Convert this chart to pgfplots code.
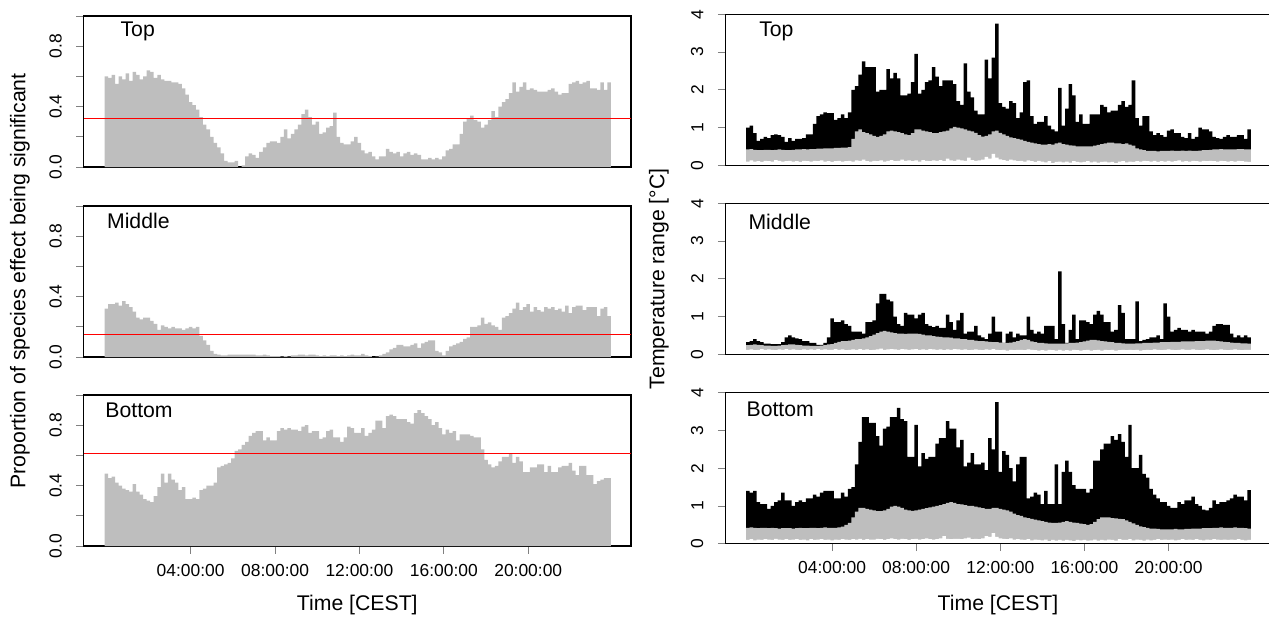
\documentclass[border=0pt]{standalone}
\usepackage{pgfplots}
\pgfplotsset{compat=1.18}
\usepackage{pgfplotstable}
\usepackage{fontspec}
\setmainfont{Liberation Sans}
\definecolor{barg}{RGB}{190,190,190}
\definecolor{rlinethree}{RGB}{254,1,1}

% Left column: proportion of species effect being significant (10-min bars)
\pgfplotstableread[row sep=\\]{
top mid bot\\
0.60 0.32 0.48\\ 0.59 0.35 0.45\\ 0.61 0.35 0.46\\ 0.55 0.36 0.42\\ 0.60 0.34 0.40\\ 0.58 0.37 0.38\\
0.62 0.35 0.37\\ 0.57 0.33 0.36\\ 0.63 0.30 0.41\\ 0.61 0.26 0.36\\ 0.58 0.25 0.34\\ 0.60 0.26 0.31\\
0.64 0.26 0.30\\ 0.63 0.24 0.29\\ 0.59 0.22 0.33\\ 0.61 0.18 0.39\\ 0.58 0.21 0.48\\ 0.57 0.20 0.42\\
0.57 0.19 0.48\\ 0.56 0.20 0.44\\ 0.56 0.19 0.42\\ 0.55 0.19 0.37\\ 0.52 0.18 0.39\\ 0.48 0.19 0.31\\
0.43 0.20 0.31\\ 0.41 0.19 0.32\\ 0.38 0.20 0.31\\ 0.33 0.14 0.37\\ 0.28 0.11 0.38\\ 0.25 0.08 0.40\\
0.20 0.04 0.40\\ 0.16 0.02 0.42\\ 0.13 0.015 0.52\\ 0.09 0.01 0.53\\ 0.04 0.01 0.54\\ 0.03 0.015 0.55\\
0.03 0.015 0.58\\ 0.04 0.015 0.63\\ 0.00 0.015 0.64\\ 0.01 0.015 0.67\\ 0.07 0.015 0.69\\ 0.09 0.015 0.73\\
0.08 0.015 0.75\\ 0.06 0.01 0.76\\ 0.10 0.01 0.76\\ 0.13 0.015 0.70\\ 0.16 0.01 0.72\\ 0.17 0.005 0.70\\
0.17 0.005 0.70\\ 0.16 0.005 0.76\\ 0.20 0.003 0.78\\ 0.25 0.005 0.77\\ 0.19 0.003 0.78\\ 0.22 0.01 0.77\\
0.25 0.01 0.77\\ 0.28 0.015 0.76\\ 0.35 0.015 0.79\\ 0.38 0.01 0.80\\ 0.33 0.015 0.75\\ 0.28 0.015 0.76\\
0.30 0.01 0.76\\ 0.22 0.005 0.71\\ 0.23 0.01 0.72\\ 0.26 0.005 0.76\\ 0.27 0.01 0.77\\ 0.36 0.01 0.72\\
0.20 0.005 0.72\\ 0.16 0.01 0.69\\ 0.15 0.005 0.72\\ 0.15 0.01 0.79\\ 0.17 0.015 0.78\\ 0.20 0.01 0.75\\
0.16 0.01 0.75\\ 0.11 0.02 0.78\\ 0.09 0.01 0.73\\ 0.10 0.005 0.75\\ 0.07 0.00 0.77\\ 0.05 0.003 0.83\\
0.07 0.01 0.83\\ 0.07 0.02 0.78\\ 0.12 0.03 0.86\\ 0.10 0.05 0.87\\ 0.09 0.06 0.86\\ 0.10 0.08 0.84\\
0.07 0.08 0.84\\ 0.09 0.07 0.84\\ 0.10 0.07 0.82\\ 0.08 0.08 0.81\\ 0.09 0.09 0.88\\ 0.08 0.06 0.90\\
0.05 0.09 0.88\\ 0.05 0.10 0.86\\ 0.06 0.11 0.84\\ 0.05 0.11 0.80\\ 0.06 0.04 0.82\\ 0.05 0.03 0.78\\
0.07 0.01 0.74\\ 0.11 0.04 0.77\\ 0.12 0.07 0.75\\ 0.15 0.08 0.76\\ 0.15 0.09 0.70\\ 0.22 0.10 0.74\\
0.30 0.12 0.74\\ 0.32 0.13 0.74\\ 0.34 0.20 0.73\\ 0.31 0.20 0.72\\ 0.30 0.21 0.72\\ 0.26 0.26 0.64\\
0.28 0.22 0.57\\ 0.31 0.23 0.54\\ 0.37 0.21 0.52\\ 0.33 0.20 0.53\\ 0.40 0.18 0.56\\ 0.43 0.26 0.59\\
0.45 0.27 0.59\\ 0.49 0.29 0.61\\ 0.56 0.32 0.55\\ 0.50 0.36 0.59\\ 0.53 0.31 0.56\\ 0.56 0.33 0.49\\
0.51 0.35 0.49\\ 0.52 0.30 0.52\\ 0.51 0.33 0.52\\ 0.50 0.31 0.54\\ 0.50 0.30 0.54\\ 0.50 0.33 0.49\\
0.51 0.32 0.53\\ 0.52 0.33 0.49\\ 0.50 0.31 0.49\\ 0.48 0.32 0.52\\ 0.49 0.30 0.53\\ 0.49 0.34 0.53\\
0.55 0.29 0.55\\ 0.56 0.33 0.50\\ 0.57 0.34 0.47\\ 0.55 0.34 0.53\\ 0.56 0.31 0.53\\ 0.57 0.33 0.47\\
0.52 0.33 0.47\\ 0.52 0.33 0.41\\ 0.51 0.27 0.43\\ 0.56 0.32 0.44\\ 0.51 0.33 0.45\\ 0.56 0.27 0.45\\
0.56 0.27 0.45\\
}\lefttab

% Right column, Top: black range top, grey top, grey bottom
\pgfplotstableread[row sep=\\]{
blk gt gb\\
1.00 0.42 0.10\\ 1.05 0.43 0.13\\ 0.85 0.41 0.10\\ 0.65 0.40 0.11\\ 0.70 0.40 0.09\\ 0.75 0.41 0.12\\
0.72 0.41 0.11\\ 0.80 0.40 0.10\\ 0.82 0.41 0.14\\ 0.80 0.42 0.12\\ 0.75 0.41 0.10\\ 0.62 0.40 0.11\\
0.72 0.40 0.12\\ 0.65 0.41 0.10\\ 0.70 0.42 0.11\\ 0.70 0.42 0.09\\ 0.72 0.43 0.12\\ 0.82 0.42 0.11\\
0.82 0.43 0.10\\ 1.10 0.43 0.12\\ 1.30 0.44 0.11\\ 1.35 0.44 0.13\\ 1.40 0.45 0.10\\ 1.38 0.45 0.11\\
1.38 0.45 0.09\\ 1.20 0.46 0.11\\ 1.25 0.46 0.12\\ 1.35 0.47 0.10\\ 1.25 0.47 0.11\\ 1.40 0.48 0.12\\
2.00 0.70 0.10\\ 2.10 0.90 0.13\\ 2.40 0.95 0.12\\ 2.75 0.88 0.15\\ 2.60 0.85 0.11\\ 2.60 0.82 0.10\\
2.60 0.78 0.12\\ 1.95 0.75 0.11\\ 2.00 0.78 0.13\\ 2.00 0.82 0.10\\ 2.55 0.90 0.12\\ 2.30 0.92 0.14\\
2.45 0.90 0.11\\ 2.30 0.88 0.12\\ 1.85 0.85 0.15\\ 1.85 0.82 0.12\\ 1.90 0.80 0.13\\ 2.20 0.85 0.11\\
2.95 0.95 0.13\\ 1.90 0.95 0.10\\ 2.00 0.92 0.14\\ 2.20 0.90 0.12\\ 2.25 0.88 0.11\\ 2.60 0.85 0.13\\
2.35 0.85 0.12\\ 2.10 0.88 0.14\\ 2.25 0.90 0.11\\ 2.25 0.92 0.18\\ 2.25 0.98 0.13\\ 2.15 1.02 0.12\\
1.70 1.00 0.15\\ 1.60 0.98 0.13\\ 2.70 0.95 0.12\\ 1.95 0.92 0.20\\ 1.80 0.90 0.14\\ 1.45 0.86 0.12\\
1.35 0.80 0.13\\ 1.35 0.76 0.15\\ 2.80 0.78 0.22\\ 2.30 0.82 0.18\\ 2.85 0.90 0.30\\ 3.75 0.92 0.20\\
1.65 0.86 0.16\\ 1.55 0.82 0.14\\ 1.50 0.78 0.12\\ 1.70 0.74 0.15\\ 1.65 0.72 0.13\\ 1.25 0.70 0.11\\
1.40 0.68 0.12\\ 2.20 0.65 0.10\\ 2.25 0.62 0.13\\ 1.30 0.60 0.11\\ 1.10 0.58 0.09\\ 1.15 0.56 0.12\\
1.15 0.55 0.10\\ 1.30 0.55 0.08\\ 1.05 0.56 0.11\\ 0.95 0.55 0.06\\ 0.90 0.58 0.09\\ 2.05 0.60 0.10\\
1.05 0.56 0.08\\ 1.50 0.55 0.10\\ 2.15 0.53 0.07\\ 1.85 0.52 0.11\\ 1.15 0.50 0.09\\ 1.35 0.50 0.08\\
1.10 0.50 0.09\\ 1.10 0.50 0.11\\ 1.35 0.50 0.08\\ 1.35 0.52 0.10\\ 1.35 0.54 0.07\\ 1.60 0.56 0.09\\
1.55 0.58 0.10\\ 1.40 0.60 0.08\\ 1.45 0.60 0.09\\ 1.45 0.58 0.06\\ 1.60 0.58 0.10\\ 1.70 0.56 0.11\\
1.55 0.58 0.08\\ 1.60 0.55 0.10\\ 2.25 0.52 0.09\\ 1.25 0.45 0.11\\ 1.05 0.42 0.10\\ 1.30 0.40 0.12\\
1.30 0.38 0.11\\ 0.90 0.38 0.10\\ 0.80 0.38 0.12\\ 0.85 0.37 0.09\\ 0.80 0.38 0.11\\ 0.75 0.38 0.10\\
0.92 0.38 0.12\\ 0.95 0.39 0.10\\ 0.85 0.38 0.11\\ 0.85 0.38 0.13\\ 0.75 0.39 0.10\\ 0.72 0.38 0.11\\
0.85 0.39 0.10\\ 0.70 0.38 0.12\\ 0.75 0.38 0.11\\ 1.00 0.39 0.10\\ 0.95 0.40 0.12\\ 0.95 0.40 0.11\\
0.90 0.41 0.12\\ 0.75 0.42 0.11\\ 0.72 0.42 0.10\\ 0.70 0.43 0.12\\ 0.75 0.42 0.11\\ 0.80 0.42 0.10\\
0.75 0.42 0.11\\ 0.75 0.42 0.10\\ 0.80 0.43 0.12\\ 0.80 0.43 0.11\\ 0.70 0.42 0.10\\ 0.95 0.42 0.09\\
0.95 0.42 0.09\\
}\trtab

% Right column, Middle
\pgfplotstableread[row sep=\\]{
blk gt gb\\
0.32 0.24 0.12\\ 0.35 0.25 0.13\\ 0.40 0.26 0.11\\ 0.35 0.25 0.12\\ 0.32 0.24 0.14\\ 0.28 0.23 0.12\\
0.28 0.23 0.13\\ 0.27 0.22 0.12\\ 0.27 0.22 0.11\\ 0.27 0.23 0.13\\ 0.32 0.24 0.12\\ 0.45 0.25 0.14\\
0.50 0.26 0.12\\ 0.45 0.26 0.13\\ 0.42 0.25 0.12\\ 0.40 0.24 0.11\\ 0.35 0.23 0.13\\ 0.35 0.23 0.12\\
0.30 0.22 0.13\\ 0.30 0.22 0.12\\ 0.25 0.22 0.14\\ 0.25 0.23 0.12\\ 0.30 0.24 0.13\\ 0.45 0.26 0.12\\
0.95 0.27 0.12\\ 0.85 0.30 0.14\\ 0.85 0.33 0.12\\ 0.90 0.35 0.13\\ 0.80 0.35 0.11\\ 0.75 0.36 0.12\\
0.60 0.38 0.13\\ 0.60 0.40 0.12\\ 0.60 0.40 0.14\\ 0.55 0.42 0.12\\ 0.85 0.45 0.13\\ 0.85 0.48 0.11\\
0.90 0.52 0.12\\ 1.35 0.56 0.13\\ 1.60 0.60 0.15\\ 1.60 0.62 0.12\\ 1.45 0.60 0.13\\ 1.40 0.58 0.14\\
1.00 0.56 0.13\\ 0.80 0.55 0.12\\ 0.75 0.55 0.14\\ 1.10 0.54 0.13\\ 1.05 0.55 0.12\\ 1.05 0.55 0.13\\
0.95 0.55 0.14\\ 1.05 0.54 0.12\\ 1.10 0.52 0.13\\ 0.80 0.50 0.12\\ 0.75 0.50 0.14\\ 0.72 0.48 0.13\\
0.75 0.47 0.12\\ 0.70 0.46 0.13\\ 0.70 0.45 0.11\\ 1.05 0.45 0.13\\ 0.85 0.44 0.12\\ 0.65 0.42 0.14\\
0.90 0.42 0.13\\ 1.10 0.40 0.12\\ 0.55 0.40 0.13\\ 0.60 0.38 0.11\\ 0.60 0.38 0.12\\ 0.75 0.36 0.13\\
0.50 0.35 0.12\\ 0.45 0.35 0.11\\ 0.40 0.34 0.13\\ 0.55 0.33 0.12\\ 1.00 0.32 0.14\\ 0.60 0.32 0.12\\
0.60 0.31 0.11\\ 0.30 0.30 0.12\\ 0.55 0.30 0.10\\ 0.60 0.31 0.12\\ 0.45 0.33 0.11\\ 0.55 0.35 0.12\\
0.50 0.38 0.12\\ 0.50 0.40 0.11\\ 1.00 0.38 0.13\\ 0.65 0.34 0.12\\ 0.55 0.32 0.11\\ 0.60 0.30 0.10\\
0.55 0.30 0.11\\ 0.75 0.29 0.10\\ 0.75 0.28 0.12\\ 0.75 0.28 0.11\\ 0.40 0.28 0.10\\ 2.20 0.28 0.12\\
0.80 0.28 0.10\\ 0.30 0.29 0.11\\ 0.65 0.30 0.10\\ 1.05 0.30 0.12\\ 0.40 0.31 0.11\\ 0.90 0.32 0.10\\
0.90 0.34 0.11\\ 0.85 0.36 0.12\\ 0.80 0.38 0.10\\ 1.05 0.38 0.11\\ 1.15 0.37 0.12\\ 1.05 0.35 0.10\\
0.85 0.34 0.12\\ 0.85 0.33 0.11\\ 0.60 0.32 0.12\\ 0.65 0.30 0.10\\ 1.30 0.30 0.11\\ 1.10 0.29 0.12\\
0.40 0.28 0.11\\ 0.40 0.28 0.12\\ 0.40 0.28 0.11\\ 1.40 0.29 0.12\\ 0.35 0.29 0.10\\ 0.38 0.30 0.11\\
0.40 0.30 0.12\\ 0.45 0.30 0.11\\ 0.45 0.31 0.13\\ 0.50 0.31 0.12\\ 0.40 0.32 0.11\\ 1.35 0.32 0.12\\
1.00 0.32 0.13\\ 0.60 0.33 0.12\\ 0.65 0.33 0.11\\ 0.70 0.33 0.12\\ 0.65 0.34 0.13\\ 0.65 0.34 0.12\\
0.60 0.34 0.12\\ 0.65 0.34 0.13\\ 0.60 0.35 0.12\\ 0.60 0.35 0.11\\ 0.60 0.35 0.12\\ 0.55 0.36 0.13\\
0.60 0.36 0.12\\ 0.75 0.36 0.11\\ 0.80 0.35 0.12\\ 0.80 0.34 0.13\\ 0.78 0.33 0.12\\ 0.78 0.32 0.11\\
0.55 0.31 0.12\\ 0.45 0.30 0.13\\ 0.50 0.30 0.12\\ 0.45 0.29 0.11\\ 0.50 0.29 0.12\\ 0.45 0.28 0.12\\
0.45 0.28 0.12\\
}\mrtab

% Right column, Bottom
\pgfplotstableread[row sep=\\]{
blk gt gb\\
1.40 0.42 0.10\\ 1.35 0.43 0.12\\ 1.40 0.42 0.09\\ 1.10 0.41 0.11\\ 1.05 0.42 0.10\\ 1.05 0.42 0.12\\
0.92 0.41 0.11\\ 1.00 0.42 0.10\\ 1.10 0.41 0.13\\ 1.15 0.40 0.11\\ 1.35 0.41 0.10\\ 1.15 0.41 0.12\\
1.15 0.41 0.10\\ 1.00 0.40 0.11\\ 1.10 0.41 0.12\\ 1.15 0.42 0.10\\ 1.10 0.41 0.11\\ 1.20 0.41 0.09\\
1.20 0.42 0.12\\ 1.30 0.42 0.10\\ 1.25 0.41 0.11\\ 1.35 0.42 0.12\\ 1.40 0.43 0.10\\ 1.40 0.42 0.11\\
1.40 0.42 0.09\\ 1.20 0.42 0.11\\ 1.20 0.43 0.10\\ 1.35 0.45 0.12\\ 1.25 0.50 0.11\\ 1.45 0.55 0.10\\
1.50 0.70 0.12\\ 2.10 0.85 0.11\\ 2.70 0.95 0.13\\ 3.35 0.95 0.10\\ 3.35 0.92 0.12\\ 3.20 0.90 0.11\\
3.20 0.88 0.11\\ 2.85 0.86 0.13\\ 2.60 0.86 0.12\\ 3.05 0.88 0.10\\ 3.10 0.92 0.12\\ 3.35 0.98 0.14\\
3.35 1.00 0.12\\ 3.60 0.98 0.11\\ 3.30 0.95 0.13\\ 3.25 0.90 0.12\\ 2.30 0.88 0.10\\ 2.30 0.87 0.12\\
3.15 0.88 0.13\\ 2.05 0.90 0.11\\ 2.40 0.92 0.12\\ 2.25 0.94 0.14\\ 2.30 0.96 0.12\\ 2.30 0.98 0.11\\
2.65 1.00 0.12\\ 2.80 1.02 0.14\\ 2.80 1.05 0.20\\ 3.25 1.08 0.13\\ 3.05 1.10 0.12\\ 3.05 1.08 0.13\\
2.55 1.05 0.13\\ 2.75 1.04 0.12\\ 2.05 1.02 0.14\\ 2.15 1.00 0.16\\ 2.40 1.00 0.12\\ 2.10 0.98 0.13\\
2.10 0.96 0.12\\ 2.15 0.94 0.14\\ 1.95 0.92 0.20\\ 2.80 0.92 0.18\\ 2.50 0.95 0.28\\ 3.75 0.95 0.18\\
1.90 0.92 0.14\\ 2.45 0.90 0.13\\ 2.35 0.88 0.12\\ 2.00 0.85 0.14\\ 1.65 0.80 0.11\\ 2.10 0.76 0.12\\
2.30 0.74 0.11\\ 2.30 0.70 0.10\\ 1.20 0.68 0.12\\ 1.25 0.66 0.09\\ 1.35 0.64 0.11\\ 1.30 0.62 0.10\\
1.05 0.60 0.09\\ 1.40 0.58 0.11\\ 1.05 0.56 0.07\\ 1.05 0.55 0.10\\ 2.10 0.55 0.08\\ 1.05 0.56 0.10\\
1.90 0.58 0.08\\ 2.20 0.60 0.10\\ 1.90 0.58 0.09\\ 1.55 0.56 0.07\\ 1.45 0.55 0.10\\ 1.45 0.53 0.09\\
1.45 0.52 0.10\\ 1.35 0.50 0.08\\ 1.45 0.52 0.09\\ 2.20 0.58 0.11\\ 2.20 0.65 0.08\\ 2.50 0.70 0.10\\
2.65 0.70 0.09\\ 2.65 0.70 0.11\\ 2.85 0.68 0.10\\ 2.75 0.67 0.08\\ 2.90 0.66 0.12\\ 2.70 0.65 0.10\\
2.30 0.62 0.10\\ 3.15 0.58 0.12\\ 2.00 0.54 0.09\\ 2.00 0.50 0.11\\ 2.35 0.46 0.10\\ 1.85 0.44 0.08\\
1.75 0.42 0.11\\ 1.45 0.40 0.09\\ 1.30 0.40 0.10\\ 1.20 0.39 0.12\\ 1.10 0.38 0.10\\ 1.10 0.38 0.11\\
1.00 0.38 0.10\\ 0.95 0.38 0.11\\ 0.95 0.39 0.09\\ 1.10 0.38 0.10\\ 1.05 0.38 0.12\\ 1.15 0.39 0.10\\
1.15 0.39 0.11\\ 1.25 0.40 0.10\\ 1.05 0.40 0.12\\ 1.00 0.40 0.10\\ 0.90 0.41 0.09\\ 0.88 0.41 0.11\\
0.95 0.41 0.10\\ 1.15 0.42 0.12\\ 1.05 0.42 0.11\\ 1.10 0.43 0.10\\ 1.10 0.42 0.11\\ 1.15 0.42 0.10\\
1.20 0.42 0.11\\ 1.30 0.43 0.10\\ 1.25 0.42 0.12\\ 1.25 0.42 0.10\\ 1.15 0.41 0.09\\ 1.42 0.40 0.10\\
1.42 0.40 0.10\\
}\brtab

\pgfplotsset{
  panel/.style={
    scale only axis, height=151bp,
    xmin=-1.07, xmax=24.87,
    axis line style={line width=1.1bp, black},
    tick style={line width=0.9bp},
    tick align=outside,
    major tick length=7.5bp,
    xtick pos=bottom, ytick pos=left,
    xtick=\empty,
    /pgf/number format/assume math mode=true,
    tick label style={font=\fontsize{17.5}{20}\selectfont},
    yticklabel style={rotate=90, anchor=south},
    xticklabel style={anchor=north},
    yticklabel shift=11bp,
    xticklabel shift=7bp,
  },
  lp/.style={panel, width=547.3bp, ymin=0, ymax=1,
    ytick={0,0.2,0.4,0.6,0.8,1}, yticklabels={0.0,,0.4,,0.8,}},
  rp/.style={panel, axis on top, width=545.6bp, ymin=0, ymax=4,
    ytick={0,1,2,3,4}, yticklabels={0,1,2,3,4}},
  timeticks/.style={xtick={4,8,12,16,20},
    xticklabels={04:00:00,08:00:00,12:00:00,16:00:00,20:00:00}},
  redline/.style={draw=red, line width=1.3bp},
}
\newcommand\lab{\fontsize{21.3}{25}\selectfont}

\begin{document}
\begin{tikzpicture}
% ---------------- left column ----------------
\begin{axis}[lp, at={(83.7bp,-16bp)}, anchor=north west]
  \addplot[const plot mark left, fill=barg, draw=none] table[x expr=\coordindex/6-1/12, y=top] {\lefttab} \closedcycle;
  \addplot[redline] coordinates {(-1.07,0.32) (24.87,0.32)};
  \node[anchor=west, inner sep=0pt, font=\lab] at (axis cs:0.67,0.9) {Top};
\end{axis}
\begin{axis}[lp, at={(83.7bp,-206bp)}, anchor=north west]
  \addplot[const plot mark left, fill=barg, draw=none] table[x expr=\coordindex/6-1/12, y=mid] {\lefttab} \closedcycle;
  \addplot[redline] coordinates {(-1.07,0.15) (24.87,0.15)};
  \node[anchor=west, inner sep=0pt, font=\lab] at (axis cs:0.03,0.9) {Middle};
\end{axis}
\begin{axis}[lp, timeticks, at={(83.7bp,-395bp)}, anchor=north west]
  \addplot[const plot mark left, fill=barg, draw=none] table[x expr=\coordindex/6-1/12, y=bot] {\lefttab} \closedcycle;
  \node[anchor=west, inner sep=0pt, font=\lab] at (axis cs:-0.05,0.9) {Bottom};
\end{axis}
% ---------------- right column ----------------
\begin{axis}[rp, at={(725.4bp,-14.3bp)}, anchor=north west]
  \addplot[const plot mark left, fill=black, draw=none] table[x expr=\coordindex/6-1/12, y=blk] {\trtab} \closedcycle;
  \addplot[const plot mark left, fill=barg, draw=none] table[x expr=\coordindex/6-1/12, y=gt] {\trtab} \closedcycle;
  \addplot[const plot mark left, fill=white, draw=none] table[x expr=\coordindex/6-1/12, y=gb] {\trtab} \closedcycle;
  \node[anchor=west, inner sep=0pt, font=\lab] at (axis cs:0.53,3.54) {Top};
\end{axis}
\begin{axis}[rp, at={(725.4bp,-203.3bp)}, anchor=north west]
  \addplot[const plot mark left, fill=black, draw=none] table[x expr=\coordindex/6-1/12, y=blk] {\mrtab} \closedcycle;
  \addplot[const plot mark left, fill=barg, draw=none] table[x expr=\coordindex/6-1/12, y=gt] {\mrtab} \closedcycle;
  \addplot[const plot mark left, fill=white, draw=none] table[x expr=\coordindex/6-1/12, y=gb] {\mrtab} \closedcycle;
  \node[anchor=west, inner sep=0pt, font=\lab] at (axis cs:0.02,3.51) {Middle};
\end{axis}
\begin{axis}[rp, timeticks, at={(725.4bp,-392.7bp)}, anchor=north west]
  \addplot[const plot mark left, fill=black, draw=none] table[x expr=\coordindex/6-1/12, y=blk] {\brtab} \closedcycle;
  \addplot[const plot mark left, fill=barg, draw=none] table[x expr=\coordindex/6-1/12, y=gt] {\brtab} \closedcycle;
  \addplot[const plot mark left, fill=white, draw=none] table[x expr=\coordindex/6-1/12, y=gb] {\brtab} \closedcycle;
  \node[anchor=west, inner sep=0pt, font=\lab] at (axis cs:-0.07,3.56) {Bottom};
\end{axis}
% ---------------- axis titles ----------------
\node[rotate=90, font=\lab] at (20bp,-280.8bp) {Proportion of species effect being significant};
\node[rotate=90, font=\lab] at (659bp,-278.8bp) {Temperature range [°C]};
\node[font=\lab] at (357.3bp,-605bp) {Time [CEST]};
\node[font=\lab] at (998bp,-605bp) {Time [CEST]};
% bottom-left reference line, drawn last in an overlay axis of identical geometry
\begin{axis}[scale only axis, width=547.3bp, height=151bp, xmin=-1.07, xmax=24.87,
             ymin=0, ymax=1, hide axis, at={(83.7bp,-395bp)}, anchor=north west]
  \addplot[draw=rlinethree, line width=1.3bp] coordinates {(-1.07,0.612) (24.87,0.612)};
\end{axis}
\pgfresetboundingbox
\path[use as bounding box] (0bp,0bp) rectangle (1269bp,-619bp);
\end{tikzpicture}
\end{document}
